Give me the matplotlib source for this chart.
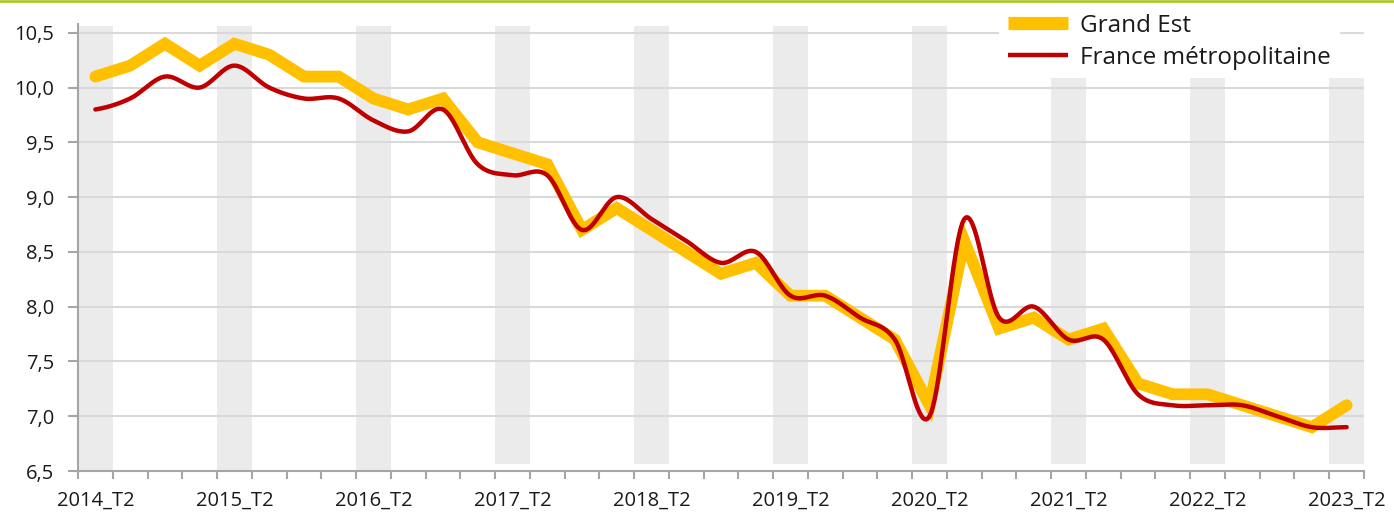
import numpy as np
import matplotlib
matplotlib.use("Agg")
import matplotlib.pyplot as plt
from matplotlib.lines import Line2D

plt.rcParams['font.family'] = ['Open Sans', 'DejaVu Sans']

# ---- data ----
quarters = []
for y in range(2014, 2024):
    for q in (1, 2, 3, 4):
        if (y == 2014 and q < 2) or (y == 2023 and q > 2):
            continue
        quarters.append(f"{y}_T{q}")

grand_est = [10.1, 10.2, 10.4, 10.2, 10.4, 10.3, 10.1, 10.1, 9.9, 9.8, 9.9,
             9.5, 9.4, 9.3, 8.7, 8.9, 8.7, 8.5, 8.3, 8.4, 8.1, 8.1, 7.9, 7.7,
             7.1, 8.6, 7.8, 7.9, 7.7, 7.8, 7.3, 7.2, 7.2, 7.1, 7.0, 6.9, 7.1]
france = [9.8, 9.9, 10.1, 10.0, 10.2, 10.0, 9.9, 9.9, 9.7, 9.6, 9.8,
          9.3, 9.2, 9.2, 8.7, 9.0, 8.8, 8.6, 8.4, 8.5, 8.1, 8.1, 7.9, 7.7,
          7.0, 8.8, 7.9, 8.0, 7.7, 7.7, 7.2, 7.1, 7.1, 7.1, 7.0, 6.9, 6.9]
label_ge = "Grand Est"
label_fr = "France métropolitaine"

# background highlight columns (T2 quarters)
band_idx = [i for i, q in enumerate(quarters) if q.endswith("_T2")]
band_bottom = [6.5, 6.5, 6.5, 6.56, 6.56, 6.56, 6.56, 6.56, 6.56, 6.56]
band_top = [10.56, 10.56, 10.56, 10.56, 10.56, 10.56, 10.56, 10.09, 10.09, 10.09]


def catmull_rom(yv, n=20):
    yv = np.asarray(yv, dtype=float)
    p = np.concatenate([[yv[0]], yv, [yv[-1]]])
    xs, ys = [], []
    for i in range(len(yv) - 1):
        p0, p1, p2, p3 = p[i], p[i + 1], p[i + 2], p[i + 3]
        t = np.linspace(0, 1, n, endpoint=False)
        yy = 0.5 * ((2 * p1) + (-p0 + p2) * t + (2 * p0 - 5 * p1 + 4 * p2 - p3) * t ** 2
                    + (-p0 + 3 * p1 - 3 * p2 + p3) * t ** 3)
        xs.append(i + t)
        ys.append(yy)
    xs.append([len(yv) - 1])
    ys.append([yv[-1]])
    return np.concatenate(xs), np.concatenate(ys)


W, H = 1394, 516
fig = plt.figure(figsize=(W / 100, H / 100), dpi=100)
ax = fig.add_axes([78 / W, 1 - 471 / H, (1364 - 78) / W, (471 - 24) / H])

x = np.arange(len(quarters))
ax.set_xlim(-0.5, len(quarters) - 0.5)
ax.set_ylim(6.5, 10.58)

# bands
ax.bar(band_idx, np.array(band_top) - np.array(band_bottom), bottom=band_bottom,
       width=1.0, color="#ebebeb", zorder=0, linewidth=0)

# grid
yt = np.arange(6.5, 10.51, 0.5)
ax.set_yticks(yt)
ax.set_yticklabels([f"{v:.1f}".replace(".", ",") for v in yt])
for v in yt[1:]:
    ax.axhline(v, color="#d9d9d9", lw=1.5, zorder=1)

# lines
ax.plot(x, grand_est, color="#ffc000", lw=8.5, solid_joinstyle="miter",
        solid_capstyle="round", zorder=3)
xs, ys = catmull_rom(france)
ax.plot(xs, ys, color="#c00000", lw=3.2, solid_capstyle="round", zorder=4)

# axes style
for s in ("top", "right"):
    ax.spines[s].set_visible(False)
for s in ("left", "bottom"):
    ax.spines[s].set_color("#a6a6a6")
    ax.spines[s].set_linewidth(1.5)

ax.set_xticks(band_idx)
ax.set_xticklabels([quarters[i] for i in band_idx])
ax.set_xticks(np.arange(-0.5, len(quarters), 1.0), minor=True)
ax.tick_params(axis="x", which="major", length=0, pad=14, labelsize=14.5,
               labelcolor="#1a1a1a")
ax.tick_params(axis="x", which="minor", length=6, width=1.5, color="#a6a6a6",
               direction="out")
ax.tick_params(axis="y", length=7, width=1.5, color="#a6a6a6", pad=10,
               labelsize=14.5, labelcolor="#1a1a1a")

# legend
handles = [Line2D([0], [0], color="#ffc000", lw=9.5, solid_capstyle="butt"),
           Line2D([0], [0], color="#c00000", lw=3.2, solid_capstyle="butt")]
leg = ax.legend(handles, [label_ge, label_fr], loc="upper left",
                bbox_to_anchor=(999 / W, 1 - 5 / H), bbox_transform=fig.transFigure,
                fontsize=17.5, frameon=True, facecolor="white", edgecolor="none",
                framealpha=1, fancybox=False, borderpad=0.35, borderaxespad=0,
                handlelength=2.5, handletextpad=0.5, labelspacing=0.33)
for t in leg.get_texts():
    t.set_color("#1a1a1a")

# top green rule
fig.add_artist(Line2D([0, 1], [1 - 1 / H, 1 - 1 / H], transform=fig.transFigure,
                      color="#a5c614", lw=1.8))

fig.savefig("out.png", dpi=100)
